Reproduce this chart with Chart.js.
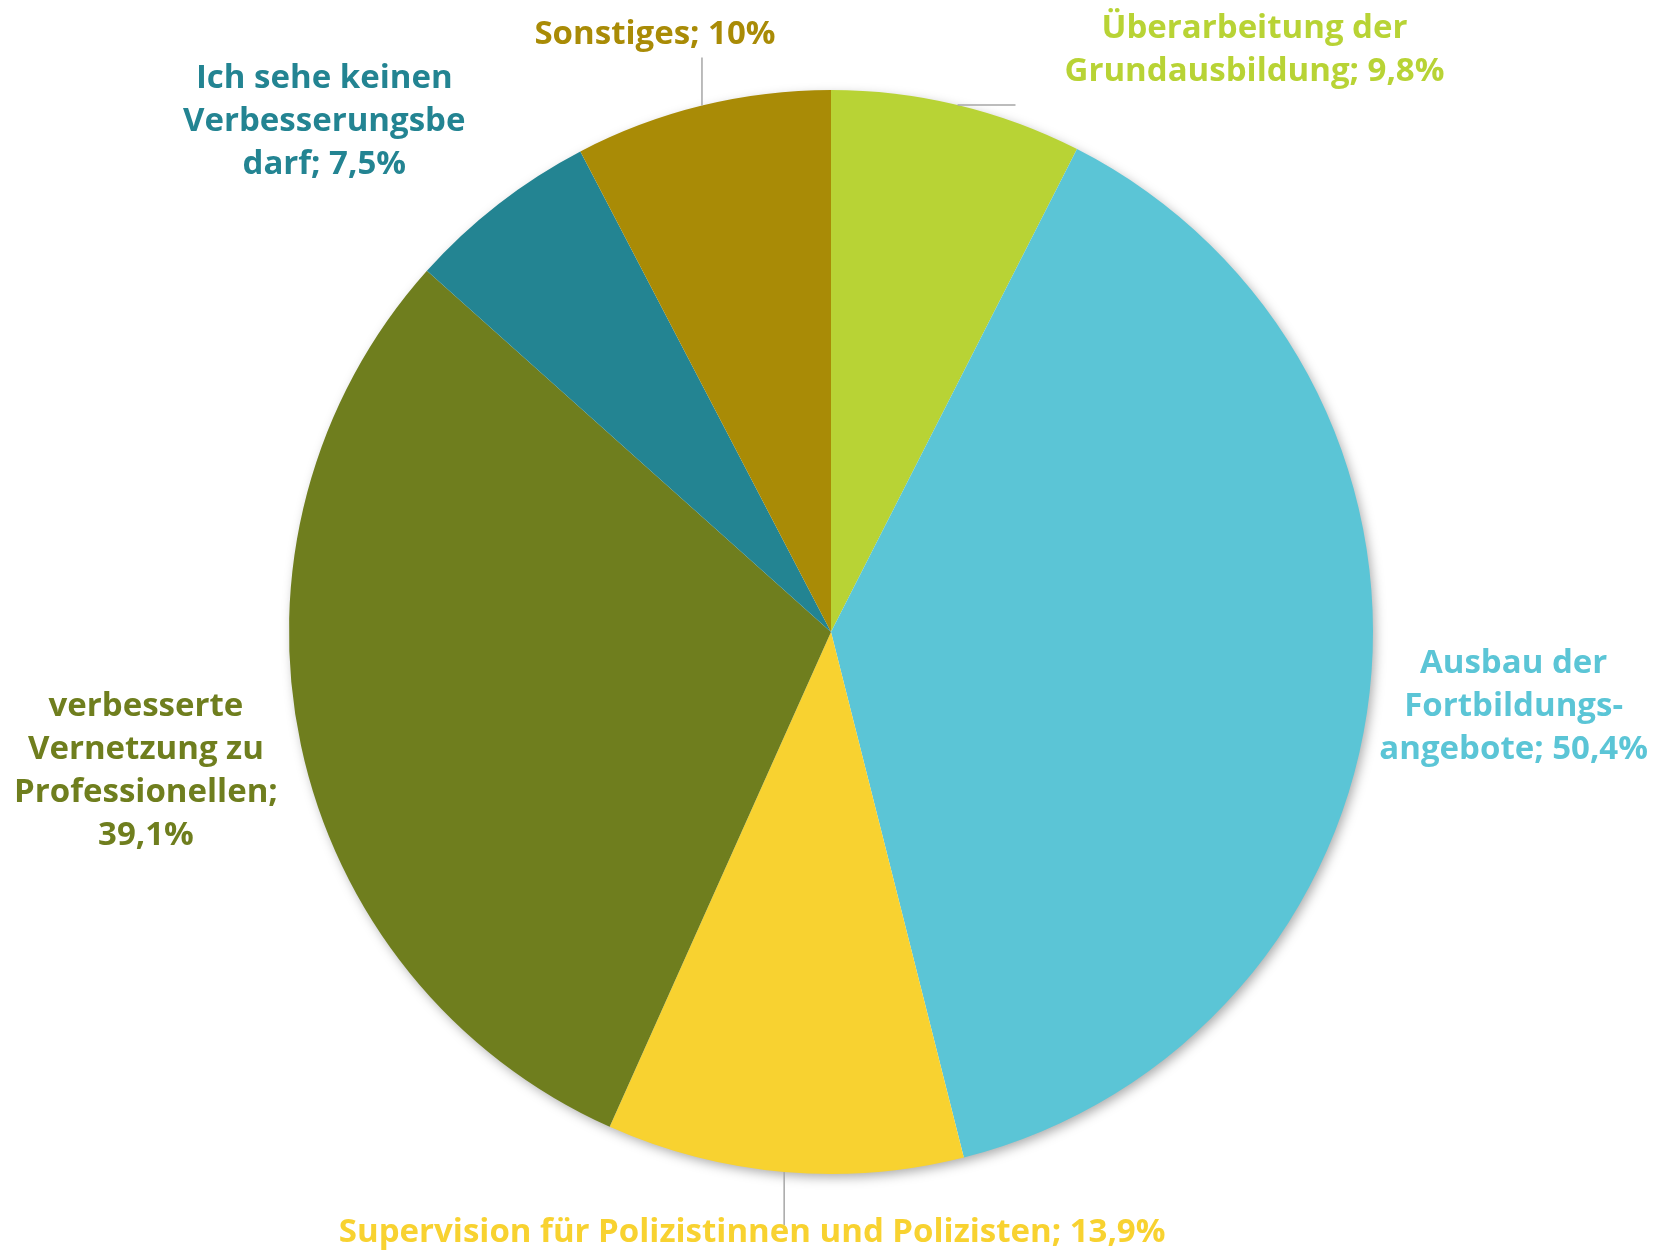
<!DOCTYPE html>
<html>
<head>
<meta charset="utf-8">
<script src="https://cdn.jsdelivr.net/npm/chart.js@4"></script>
<style>
  html, body { margin: 0; padding: 0; background: #ffffff; }
  canvas { display: block; }
</style>
</head>
<body>
<canvas id="c" width="1656" height="1253"></canvas>
<script>
const categories = [
  'Überarbeitung der Grundausbildung',
  'Ausbau der Fortbildungsangebote',
  'Supervision für Polizistinnen und Polizisten',
  'verbesserte Vernetzung zu Professionellen',
  'Ich sehe keinen Verbesserungsbedarf',
  'Sonstiges'
];
const values = [9.8, 50.4, 13.9, 39.1, 7.5, 10];
const colors = ['#B8D335', '#5BC5D6', '#F8D230', '#6F7E1E', '#238492', '#A98B06'];

const pct = v => String(v).replace('.', ',') + '%';
const labelLines = [
  ['Überarbeitung der', 'Grundausbildung; ' + pct(values[0])],
  ['Ausbau der', 'Fortbildungs-', 'angebote; ' + pct(values[1])],
  ['Supervision für Polizistinnen und Polizisten; ' + pct(values[2])],
  ['verbesserte', 'Vernetzung zu', 'Professionellen;', pct(values[3])],
  ['Ich sehe keinen', 'Verbesserungsbe', 'darf; ' + pct(values[4])],
  ['Sonstiges; ' + pct(values[5])]
];

// label block centre relative to the slice's outer mid point (px)
const labelOffsets = [[297, -55], [144, 14], [-32, 61], [-155, 26], [-174, -83], [-47, -71]];
// leader line end relative to the slice's outer mid point (null = no leader)
const leaderEnds = [[58, 0], null, [0, 53], null, null, [0, -48]];

const FONT_SIZE = 33;
const LINE_H = 43;
const FONT = 'bold ' + FONT_SIZE + 'px "Open Sans", "DejaVu Sans", sans-serif';

const pieExtras = {
  id: 'pieExtras',
  beforeDatasetsDraw(chart) {
    const ctx = chart.ctx;
    const a = chart.getDatasetMeta(0).data[0];
    const p = a.getProps(['x', 'y', 'outerRadius'], true);
    ctx.save();
    ctx.shadowColor = 'rgba(0,0,0,0.35)';
    ctx.shadowBlur = 12;
    ctx.shadowOffsetX = 3;
    ctx.shadowOffsetY = 4;
    ctx.beginPath();
    ctx.arc(p.x, p.y, p.outerRadius - 1, 0, Math.PI * 2);
    ctx.fillStyle = '#ffffff';
    ctx.fill();
    ctx.restore();
  },
  afterDatasetsDraw(chart) {
    const ctx = chart.ctx;
    const meta = chart.getDatasetMeta(0);
    meta.data.forEach((arc, i) => {
      const p = arc.getProps(['x', 'y', 'startAngle', 'endAngle', 'outerRadius'], true);
      const mid = (p.startAngle + p.endAngle) / 2;
      const ex = p.x + Math.cos(mid) * p.outerRadius;
      const ey = p.y + Math.sin(mid) * p.outerRadius;
      ctx.save();
      const le = leaderEnds[i];
      if (le) {
        ctx.strokeStyle = '#A6A6A6';
        ctx.lineWidth = 1.5;
        ctx.beginPath();
        ctx.moveTo(ex, ey);
        ctx.lineTo(ex + le[0], ey + le[1]);
        ctx.stroke();
      }
      const lines = labelLines[i];
      const cx = ex + labelOffsets[i][0];
      const cy = ey + labelOffsets[i][1];
      ctx.font = FONT;
      ctx.fillStyle = colors[i];
      ctx.textAlign = 'center';
      ctx.textBaseline = 'middle';
      const top = cy - (lines.length - 1) * LINE_H / 2;
      lines.forEach((t, k) => ctx.fillText(t, cx, top + k * LINE_H));
      ctx.restore();
    });
  }
};

new Chart(document.getElementById('c'), {
  type: 'pie',
  data: {
    labels: categories,
    datasets: [{
      data: values,
      backgroundColor: colors,
      borderWidth: 0
    }]
  },
  options: {
    responsive: false,
    devicePixelRatio: 1,
    animation: false,
    layout: { padding: { top: 90, bottom: 79, left: 289, right: 283 } },
    plugins: {
      legend: { display: false },
      tooltip: { enabled: false }
    }
  },
  plugins: [pieExtras]
});
</script>
</body>
</html>
